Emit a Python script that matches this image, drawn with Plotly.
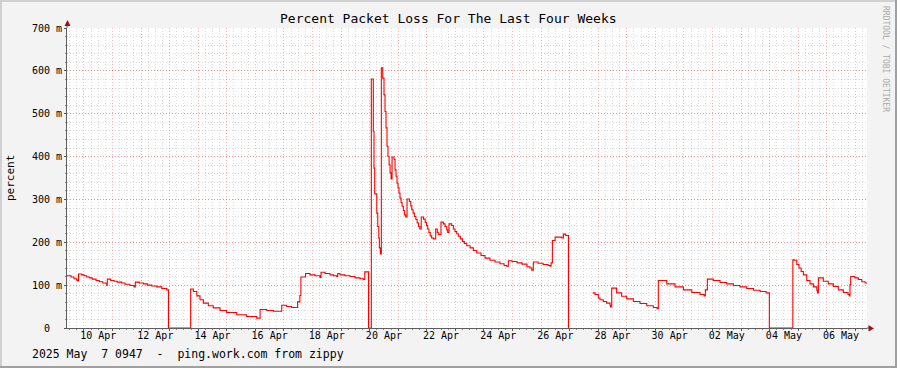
import plotly.graph_objects as go

# ---------------- data ----------------
start_time = "2025-04-09 09:47"
end_time = "2025-05-07 09:47"

sample_times = [
    "2025-04-09 09:47", "2025-04-09 13:10", "2025-04-09 15:40", "2025-04-09 17:50", "2025-04-09 18:40",
    "2025-04-09 19:30", "2025-04-09 22:10", "2025-04-10 00:05", "2025-04-10 02:20", "2025-04-10 04:30",
    "2025-04-10 07:00", "2025-04-10 10:10", "2025-04-10 12:55", "2025-04-10 15:50", "2025-04-10 19:10",
    "2025-04-10 19:40", "2025-04-10 22:30", "2025-04-11 01:15", "2025-04-11 04:00", "2025-04-11 07:45",
    "2025-04-11 10:30", "2025-04-11 14:40", "2025-04-11 18:05", "2025-04-11 19:10", "2025-04-11 22:30",
    "2025-04-12 01:55", "2025-04-12 05:15", "2025-04-12 09:00", "2025-04-12 13:10", "2025-04-12 17:25",
    "2025-04-12 21:35", "2025-04-12 23:00",
    "2025-04-13 17:40", "2025-04-13 19:55", "2025-04-13 22:50", "2025-04-14 01:30", "2025-04-14 04:20",
    "2025-04-14 08:30", "2025-04-14 12:40", "2025-04-14 18:20", "2025-04-14 23:55", "2025-04-15 08:20",
    "2025-04-15 16:40", "2025-04-16 01:10", "2025-04-16 04:00", "2025-04-16 09:35", "2025-04-16 15:10",
    "2025-04-16 22:10", "2025-04-17 02:20", "2025-04-17 06:30", "2025-04-17 11:30", "2025-04-17 13:25",
    "2025-04-17 14:15", "2025-04-17 18:10", "2025-04-17 21:50", "2025-04-18 02:05", "2025-04-18 06:20",
    "2025-04-18 07:10", "2025-04-18 10:30", "2025-04-18 14:40", "2025-04-18 17:30", "2025-04-18 20:20",
    "2025-04-18 21:10", "2025-04-18 23:05", "2025-04-19 03:20", "2025-04-19 07:35", "2025-04-19 11:45",
    "2025-04-19 16:00", "2025-04-19 18:45", "2025-04-19 19:55", "2025-04-19 23:05",
    "2025-04-20 01:25", "2025-04-20 03:05", "2025-04-20 03:40", "2025-04-20 04:15", "2025-04-20 06:00",
    "2025-04-20 06:50", "2025-04-20 07:40", "2025-04-20 08:10", "2025-04-20 09:00", "2025-04-20 09:50",
    "2025-04-20 11:00", "2025-04-20 12:05", "2025-04-20 12:55", "2025-04-20 13:45", "2025-04-20 14:35",
    "2025-04-20 15:25", "2025-04-20 16:20", "2025-04-20 17:10", "2025-04-20 18:00", "2025-04-20 18:50",
    "2025-04-20 20:30", "2025-04-20 21:20", "2025-04-20 22:10", "2025-04-20 23:00", "2025-04-20 23:50",
    "2025-04-21 00:40", "2025-04-21 01:30", "2025-04-21 02:25", "2025-04-21 03:15", "2025-04-21 04:20",
    "2025-04-21 05:10", "2025-04-21 06:20", "2025-04-21 07:25", "2025-04-21 09:25", "2025-04-21 10:35",
    "2025-04-21 11:25", "2025-04-21 12:30", "2025-04-21 13:35", "2025-04-21 14:50", "2025-04-21 15:55",
    "2025-04-21 17:00", "2025-04-21 18:10", "2025-04-21 19:20", "2025-04-21 21:15", "2025-04-21 22:40",
    "2025-04-21 23:45", "2025-04-22 00:45", "2025-04-22 01:50", "2025-04-22 02:55", "2025-04-22 04:05",
    "2025-04-22 05:30", "2025-04-22 07:30", "2025-04-22 08:50", "2025-04-22 09:40", "2025-04-22 11:55",
    "2025-04-22 13:55", "2025-04-22 15:20", "2025-04-22 16:45", "2025-04-22 17:35", "2025-04-22 18:40",
    "2025-04-22 20:55", "2025-04-22 22:20", "2025-04-22 23:40", "2025-04-23 01:10", "2025-04-23 02:30",
    "2025-04-23 04:10", "2025-04-23 05:55", "2025-04-23 07:35", "2025-04-23 09:35", "2025-04-23 12:25",
    "2025-04-23 15:10", "2025-04-23 18:00", "2025-04-23 21:35", "2025-04-24 00:55", "2025-04-24 05:05",
    "2025-04-24 09:20", "2025-04-24 13:30", "2025-04-24 16:55", "2025-04-24 19:10", "2025-04-24 20:30",
    "2025-04-24 23:35", "2025-04-25 03:50", "2025-04-25 08:00", "2025-04-25 12:10", "2025-04-25 14:40",
    "2025-04-25 16:10", "2025-04-25 17:30", "2025-04-25 21:30", "2025-04-26 01:40", "2025-04-26 05:55",
    "2025-04-26 07:35", "2025-04-26 08:25", "2025-04-26 09:30", "2025-04-26 11:45", "2025-04-26 17:25",
    "2025-04-26 18:45", "2025-04-26 20:45", "2025-04-26 23:00",
    "2025-04-27 19:15", "2025-04-27 19:25", "2025-04-27 21:20", "2025-04-28 00:05", "2025-04-28 01:30",
    "2025-04-28 04:15", "2025-04-28 07:05", "2025-04-28 09:55", "2025-04-28 10:20", "2025-04-28 11:20",
    "2025-04-28 15:30", "2025-04-28 19:40", "2025-04-28 23:55", "2025-04-29 05:30", "2025-04-29 11:05",
    "2025-04-29 16:45", "2025-04-29 22:20", "2025-04-30 01:25", "2025-04-30 02:30", "2025-04-30 09:35",
    "2025-04-30 16:30", "2025-04-30 23:30", "2025-05-01 06:35", "2025-05-01 13:30", "2025-05-01 16:55",
    "2025-05-01 18:00", "2025-05-01 19:40", "2025-05-02 00:40", "2025-05-02 06:20", "2025-05-02 11:55",
    "2025-05-02 17:30", "2025-05-02 23:05", "2025-05-03 04:45", "2025-05-03 10:25", "2025-05-03 16:00",
    "2025-05-03 21:00", "2025-05-03 23:45",
    "2025-05-04 19:30", "2025-05-04 20:50", "2025-05-04 22:50", "2025-05-05 00:40", "2025-05-05 02:25",
    "2025-05-05 04:20", "2025-05-05 07:10", "2025-05-05 09:55", "2025-05-05 12:45", "2025-05-05 15:35",
    "2025-05-05 16:10", "2025-05-05 16:55", "2025-05-05 21:05", "2025-05-06 01:15", "2025-05-06 05:30",
    "2025-05-06 09:40", "2025-05-06 13:55", "2025-05-06 17:50", "2025-05-06 18:55", "2025-05-06 19:30",
    "2025-05-06 20:05", "2025-05-06 23:40", "2025-05-07 02:30", "2025-05-07 05:25", "2025-05-07 08:10",
    "2025-05-07 09:47",
]

# packet loss in milli-percent (None = unknown)
loss_milli = [
    122, 119, 115, 112, 110,
    126, 124, 122, 119, 117,
    114, 111, 108, 105, 100,
    114, 111, 109, 107, 105,
    102, 99, 96, 107, 105,
    103, 100, 98, 96, 92,
    89, 0,
    91, 85, 75, 66, 58,
    52, 47, 41, 36, 31,
    27, 23, 43, 41, 39,
    53, 50, 48, 61, 76,
    119, 127, 124, 122, 118,
    130, 127, 124, 122, 120,
    127, 124, 122, 120, 117,
    115, 113, 131, 0,
    581, 459, 373, 313, 268,
    237, 210, 187, 173, 607,
    583, 544, 505, 467, 424,
    400, 381, 362, 348, 399,
    393, 369, 354, 338, 327,
    315, 303, 293, 284, 274,
    264, 259, 301, 295, 285,
    276, 268, 260, 253, 245,
    237, 231, 259, 254, 246,
    239, 231, 223, 215, 210,
    208, 231, 223, 218, 247,
    243, 237, 229, 223, 243,
    239, 231, 225, 220, 214,
    208, 202, 197, 192, 187,
    181, 175, 169, 163, 158,
    154, 150, 146, 144, 157,
    155, 152, 149, 143, 140,
    135, 154, 151, 148, 146,
    144, 152, 204, 212, 210,
    219, 216, 0,
    None, 82, 78, 70, 66,
    62, 58, 53, 49, 93,
    82, 74, 68, 62, 57,
    52, 48, 45, 111, 103,
    96, 89, 83, 78, 75,
    89, 114, 111, 106, 103,
    99, 96, 92, 88, 85,
    82, 0,
    159, 158, 148, 140, 132,
    124, 111, 103, 96, 88,
    82, 117, 109, 103, 97,
    89, 83, 78, 75, 101,
    120, 117, 113, 108, 105,
    105,
]

y_tick_values = [0, 100, 200, 300, 400, 500, 600, 700]
y_tick_labels = ["0\u00a0\u00a0", "100 m", "200 m", "300 m", "400 m", "500 m", "600 m", "700 m"]

x_label_times = [
    "2025-04-10 12:00", "2025-04-12 12:00", "2025-04-14 12:00", "2025-04-16 12:00",
    "2025-04-18 12:00", "2025-04-20 12:00", "2025-04-22 12:00", "2025-04-24 12:00",
    "2025-04-26 12:00", "2025-04-28 12:00", "2025-04-30 12:00", "2025-05-02 12:00",
    "2025-05-04 12:00", "2025-05-06 12:00",
]
x_label_texts = [
    "10 Apr", "12 Apr", "14 Apr", "16 Apr", "18 Apr", "20 Apr", "22 Apr",
    "24 Apr", "26 Apr", "28 Apr", "30 Apr", "02 May", "04 May", "06 May",
]

title_text = "Percent Packet Loss For The Last Four Weeks"
y_title = "percent"
footnote = "2025 May&nbsp;&nbsp;7 0947&nbsp;&nbsp;-&nbsp;&nbsp;ping.work.com from zippy"
watermark = "RRDTOOL / TOBI OETIKER"

# ---------------- figure ----------------
MONO = "DejaVu Sans Mono"
W, H = 897, 368
L, R, T, B = 67, 30, 28, 40
PW, PH = W - L - R, H - T - B


def px(x):
    return (x - L) / PW


def py(y):
    return (T + PH - y) / PH


major_grid = "rgba(255,0,0,0.30)"
minor_grid = "rgba(150,150,150,0.33)"
dash = "1px,2px"
axis_col = "rgba(0,0,0,0.62)"

fig = go.Figure()
fig.add_trace(go.Scatter(
    x=sample_times, y=loss_milli, mode="lines",
    line=dict(color="#FF0000", width=1.1, shape="hv"),
    connectgaps=False, hoverinfo="x+y", showlegend=False,
))
# invisible helper trace so the label axis is drawn
fig.add_trace(go.Scatter(
    x=[start_time, end_time], y=[0, 0], xaxis="x2", mode="lines",
    line=dict(width=0), opacity=0, hoverinfo="skip", showlegend=False,
))

fig.update_layout(
    width=W, height=H,
    margin=dict(l=L, r=R, t=T, b=B, pad=0),
    paper_bgcolor="#F3F3F3",
    plot_bgcolor="#FFFFFF",
    showlegend=False,
    font=dict(family=MONO, size=10, color="#000000"),
    xaxis=dict(
        type="date", range=[start_time, end_time],
        showgrid=True, gridcolor=major_grid, griddash=dash, gridwidth=1,
        tick0="2025-04-10 00:00", dtick=86400000,
        showticklabels=False,
        ticks="outside", ticklen=2, tickcolor="#555555",
        minor=dict(dtick=6 * 3600000, tick0="2025-04-10 00:00", showgrid=True,
                   gridcolor=minor_grid, griddash=dash, gridwidth=1,
                   ticks="outside", ticklen=1, tickcolor="#888888"),
        showline=True, linecolor=axis_col, linewidth=1,
        zeroline=False, fixedrange=True, layer="above traces",
    ),
    xaxis2=dict(
        type="date", range=[start_time, end_time], overlaying="x", side="bottom",
        showgrid=False, tickmode="array", tickvals=x_label_times, ticktext=x_label_texts,
        ticks="", showline=False, zeroline=False, fixedrange=True,
        tickfont=dict(family=MONO, size=10, color="#000000"),
    ),
    yaxis=dict(
        range=[0, 700], tickmode="array", tickvals=y_tick_values, ticktext=y_tick_labels,
        showgrid=True, gridcolor=major_grid, griddash=dash, gridwidth=1,
        ticks="outside", ticklen=2, tickcolor="#555555",
        minor=dict(dtick=20, tick0=0, showgrid=True, gridcolor=minor_grid, griddash=dash,
                   gridwidth=1, ticks="outside", ticklen=1, tickcolor="#888888"),
        showline=True, linecolor=axis_col, linewidth=1,
        zeroline=False, fixedrange=True, layer="above traces",
        tickfont=dict(family=MONO, size=10, color="#000000"),
    ),
)

shapes = []
# frame (3D look)
shapes.append(dict(type="rect", xref="paper", yref="paper", x0=px(0), x1=px(W), y0=py(0),
                   y1=py(2), fillcolor="#D0D0D0", line=dict(width=0), layer="below"))
shapes.append(dict(type="rect", xref="paper", yref="paper", x0=px(0), x1=px(2), y0=py(H),
                   y1=py(0), fillcolor="#D0D0D0", line=dict(width=0), layer="below"))
shapes.append(dict(type="rect", xref="paper", yref="paper", x0=px(0), x1=px(W), y0=py(H),
                   y1=py(H - 2), fillcolor="#A0A0A0", line=dict(width=0), layer="below"))
shapes.append(dict(type="rect", xref="paper", yref="paper", x0=px(W - 2), x1=px(W), y0=py(H),
                   y1=py(0), fillcolor="#A0A0A0", line=dict(width=0), layer="below"))
# axis extensions and arrow heads
shapes.append(dict(type="line", xref="paper", yref="paper", x0=0, x1=0, y0=1, y1=py(22),
                   line=dict(color="#555555", width=1)))
shapes.append(dict(type="line", xref="paper", yref="paper", x0=1, x1=px(870), y0=0, y1=0,
                   line=dict(color="#555555", width=1)))
shapes.append(dict(type="path", xref="paper", yref="paper",
                   path=f"M {px(67.5)} {py(20)} L {px(64.5)} {py(26)} L {px(70.5)} {py(26)} Z",
                   fillcolor="#A01010", line=dict(color="#A01010", width=0)))
shapes.append(dict(type="path", xref="paper", yref="paper",
                   path=f"M {px(874)} {py(328.5)} L {px(868.5)} {py(325)} L {px(868.5)} {py(331.5)} Z",
                   fillcolor="#A01010", line=dict(color="#A01010", width=0)))
fig.update_layout(shapes=shapes)

annotations = [
    dict(text=title_text, xref="paper", yref="paper", x=px(448.5), y=py(19),
         xanchor="center", yanchor="middle", showarrow=False,
         font=dict(family=MONO, size=13, color="#000000")),
    dict(text=y_title, xref="paper", yref="paper", x=px(10), y=0.5, textangle=-90,
         xanchor="center", yanchor="middle", showarrow=False,
         font=dict(family=MONO, size=11, color="#000000")),
    dict(text=footnote, xref="paper", yref="paper", x=px(30), y=py(354),
         xanchor="left", yanchor="middle", showarrow=False,
         font=dict(family=MONO, size=11.5, color="#000000")),
    dict(text=watermark, xref="paper", yref="paper", x=px(886), y=py(59), textangle=90,
         xanchor="center", yanchor="middle", showarrow=False,
         font=dict(family=MONO, size=8, color="#AAAAAA")),
]
fig.update_layout(annotations=annotations)

fig.write_html("out.html",
               config={"displayModeBar": False, "staticPlot": True},
               post_script="document.body.style.margin='0px';document.body.style.padding='0px';")
